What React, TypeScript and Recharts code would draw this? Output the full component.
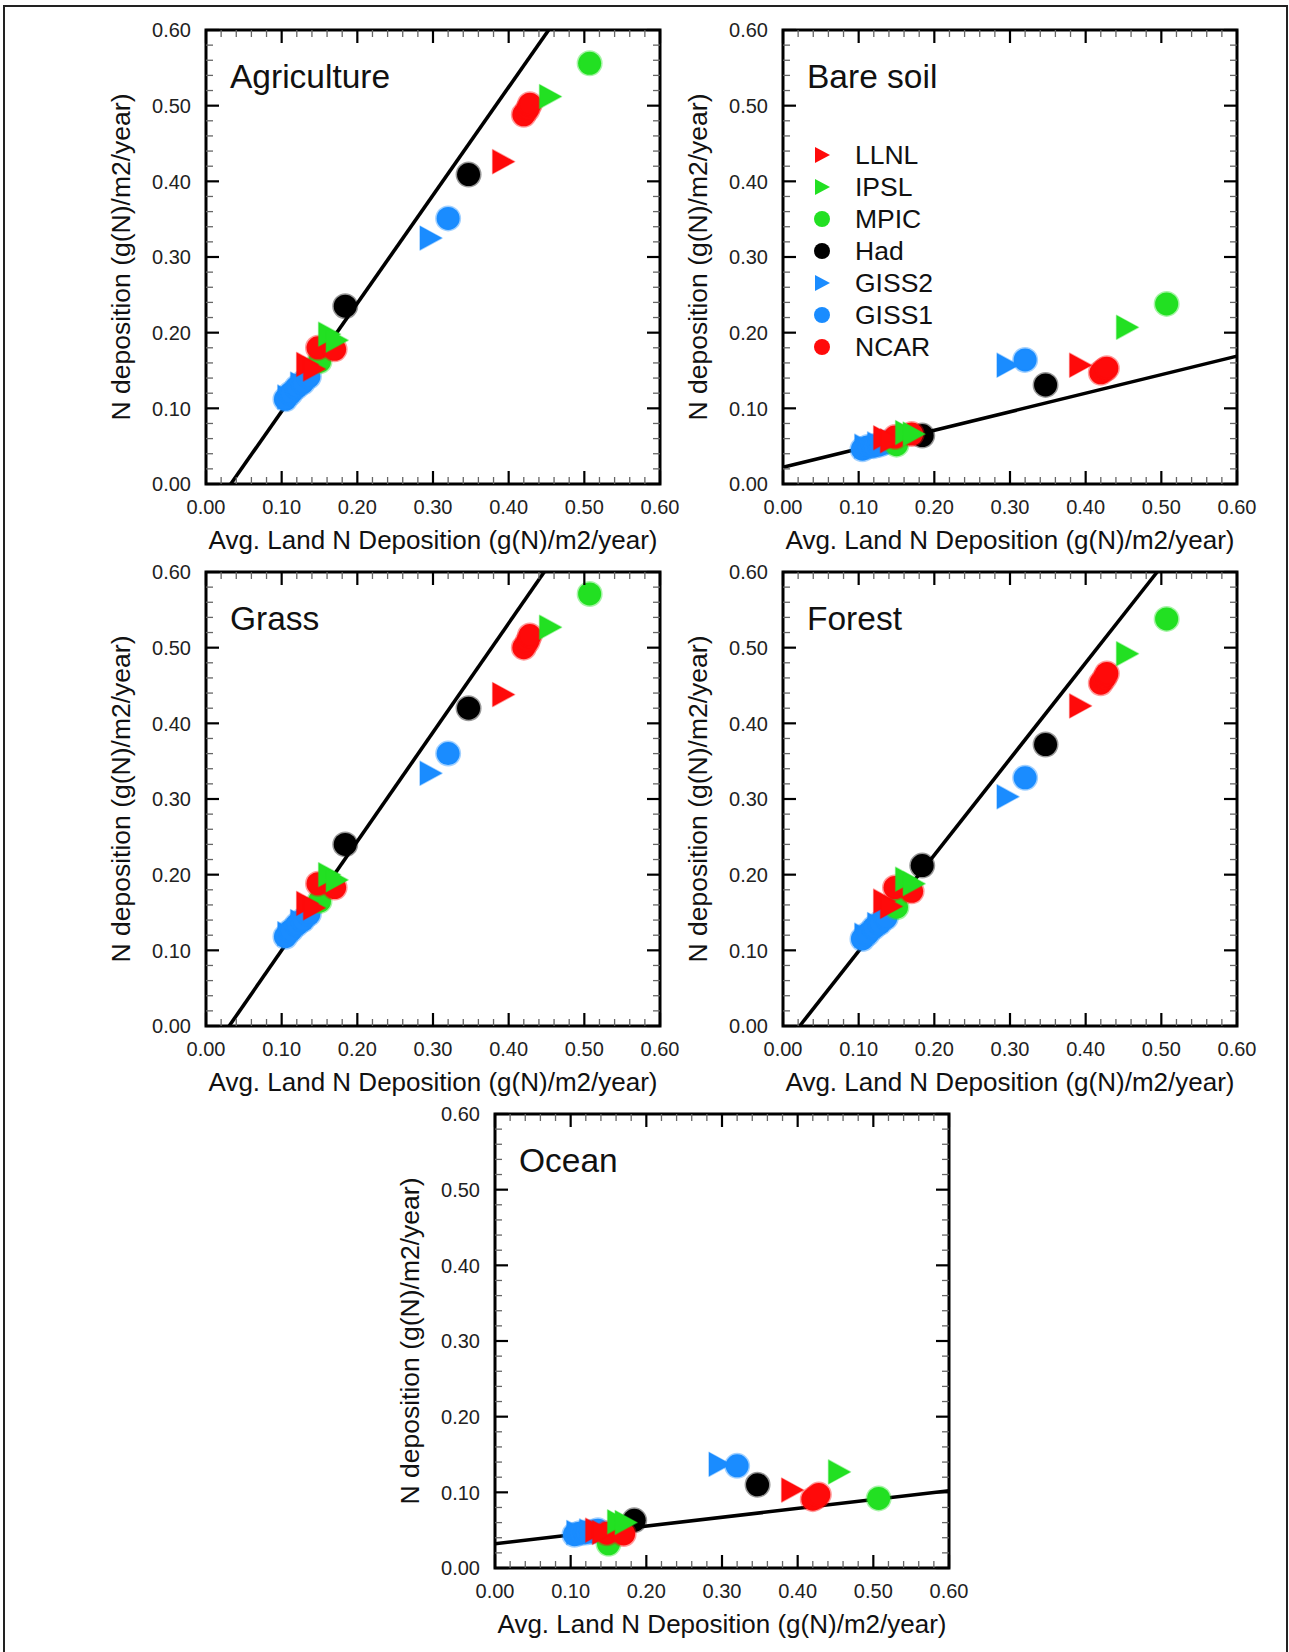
import React from "react";
import {
  ScatterChart,
  Scatter,
  XAxis,
  YAxis,
  ReferenceLine,
  ReferenceArea,
  Legend,
  Customized,
} from "recharts";

// ---------------- data ----------------
const MODELS = ["LLNL", "IPSL", "MPIC", "Had", "GISS2", "GISS1", "NCAR"];
const DRAW_ORDER = ["GISS2", "GISS1", "MPIC", "Had", "NCAR", "LLNL", "IPSL"];

// Avg. land N deposition (x) for each model's points, shared by every panel
const xLLNL = [0.133, 0.142, 0.392];
const xIPSL = [0.162, 0.172, 0.454];
const xMPIC = [0.15, 0.507];
const xHad = [0.184, 0.347];
const xGISS2 = [0.108, 0.125, 0.296];
const xGISS1 = [0.105, 0.112, 0.12, 0.128, 0.136, 0.32];
const xNCAR = [0.148, 0.17, 0.42, 0.425, 0.428];

// N deposition (y) per panel
const agricultureY = {
  LLNL: [0.158, 0.152, 0.426],
  IPSL: [0.198, 0.19, 0.512],
  MPIC: [0.162, 0.556],
  Had: [0.235, 0.409],
  GISS2: [0.115, 0.132, 0.325],
  GISS1: [0.112, 0.12, 0.128, 0.134, 0.142, 0.351],
  NCAR: [0.18, 0.178, 0.488, 0.495, 0.502],
};
const bareSoilY = {
  LLNL: [0.061, 0.057, 0.157],
  IPSL: [0.068, 0.066, 0.207],
  MPIC: [0.052, 0.238],
  Had: [0.064, 0.131],
  GISS2: [0.05, 0.053, 0.157],
  GISS1: [0.046, 0.049, 0.05, 0.052, 0.055, 0.164],
  NCAR: [0.062, 0.066, 0.147, 0.151, 0.153],
};
const grassY = {
  LLNL: [0.162, 0.156, 0.438],
  IPSL: [0.2, 0.193, 0.527],
  MPIC: [0.165, 0.571],
  Had: [0.24, 0.42],
  GISS2: [0.122, 0.138, 0.334],
  GISS1: [0.118, 0.126, 0.134, 0.14, 0.148, 0.36],
  NCAR: [0.188, 0.183, 0.5, 0.508, 0.516],
};
const forestY = {
  LLNL: [0.165, 0.158, 0.423],
  IPSL: [0.194, 0.188, 0.492],
  MPIC: [0.157, 0.538],
  Had: [0.212, 0.372],
  GISS2: [0.12, 0.134, 0.303],
  GISS1: [0.115, 0.122, 0.13, 0.136, 0.143, 0.328],
  NCAR: [0.183, 0.178, 0.453, 0.46, 0.466],
};
const oceanY = {
  LLNL: [0.05, 0.047, 0.103],
  IPSL: [0.061, 0.06, 0.127],
  MPIC: [0.032, 0.092],
  Had: [0.063, 0.11],
  GISS2: [0.047, 0.049, 0.137],
  GISS1: [0.044, 0.046, 0.047, 0.048, 0.05, 0.135],
  NCAR: [0.046, 0.045, 0.091, 0.094, 0.097],
};

const PANEL_TITLES = ["Agriculture", "Bare soil", "Grass", "Forest", "Ocean"];
const PANEL_Y = [agricultureY, bareSoilY, grassY, forestY, oceanY];
// linear fit: y = intercept + slope * x
const FIT_INTERCEPT = [-0.0467, 0.022, -0.0441, -0.028, 0.032];
const FIT_SLOPE = [1.428, 0.245, 1.441, 1.27, 0.117];

const AXIS_TICKS = [
  0, 0.02, 0.04, 0.06, 0.08, 0.1, 0.12, 0.14, 0.16, 0.18, 0.2, 0.22, 0.24,
  0.26, 0.28, 0.3, 0.32, 0.34, 0.36, 0.38, 0.4, 0.42, 0.44, 0.46, 0.48, 0.5,
  0.52, 0.54, 0.56, 0.58, 0.6,
];
const X_TITLE = "Avg. Land N Deposition (g(N)/m2/year)";
const Y_TITLE = "N deposition (g(N)/m2/year)";

const X_BY_MODEL: Record<string, number[]> = {
  LLNL: xLLNL,
  IPSL: xIPSL,
  MPIC: xMPIC,
  Had: xHad,
  GISS2: xGISS2,
  GISS1: xGISS1,
  NCAR: xNCAR,
};

// ---------------- styling ----------------
const COLOR: Record<string, string> = {
  LLNL: "#ff0a0a",
  IPSL: "#22e022",
  MPIC: "#22e022",
  Had: "#000000",
  GISS2: "#1a8cff",
  GISS1: "#1a8cff",
  NCAR: "#ff0a0a",
};
const SHAPE: Record<string, string> = {
  LLNL: "triangle",
  IPSL: "triangle",
  MPIC: "circle",
  Had: "circle",
  GISS2: "triangle",
  GISS1: "circle",
  NCAR: "circle",
};

const FONT = "'Liberation Sans', Arial, Helvetica, sans-serif";
const PL = 120; // plot left inside chart
const PT = 10; // plot top inside chart
const PW = 454;
const PH = 454;
const XH = 80;
const CW = PL + PW + 20;
const CH = PT + PH + XH;
const PB = PT + PH;
const PR = PL + PW;

const CHART_POS = [
  { left: 86, top: 20 },
  { left: 663, top: 20 },
  { left: 86, top: 562 },
  { left: 663, top: 562 },
  { left: 375, top: 1104 },
];

const isMajor = (v: number) => Math.abs(v * 10 - Math.round(v * 10)) < 1e-6;

const XTick = (props: any) => {
  const { x, payload } = props;
  const v = payload.value as number;
  const major = isMajor(v);
  const len = major ? 13 : 7;
  const sw = major ? 2.2 : 1.3;
  const col = major ? "#000" : "#666";
  return (
    <g>
      <line x1={x} x2={x} y1={PB} y2={PB - len} stroke={col} strokeWidth={sw} />
      <line x1={x} x2={x} y1={PT} y2={PT + len} stroke={col} strokeWidth={sw} />
      {major && (
        <text
          x={x}
          y={PB + 30}
          textAnchor="middle"
          fontSize={20}
          fontFamily={FONT}
          fill="#222"
        >
          {v.toFixed(2)}
        </text>
      )}
    </g>
  );
};

const YTick = (props: any) => {
  const { y, payload } = props;
  const v = payload.value as number;
  const major = isMajor(v);
  const len = major ? 13 : 7;
  const sw = major ? 2.2 : 1.3;
  const col = major ? "#000" : "#666";
  return (
    <g>
      <line x1={PL} x2={PL + len} y1={y} y2={y} stroke={col} strokeWidth={sw} />
      <line x1={PR} x2={PR - len} y1={y} y2={y} stroke={col} strokeWidth={sw} />
      {major && (
        <text
          x={PL - 15}
          y={y}
          dy="0.36em"
          textAnchor="end"
          fontSize={20}
          fontFamily={FONT}
          fill="#222"
        >
          {v.toFixed(2)}
        </text>
      )}
    </g>
  );
};

const makeShape = (model: string) => (props: any) => {
  const { cx, cy } = props;
  if (cx == null || cy == null) return <g />;
  const c = COLOR[model];
  if (SHAPE[model] === "circle") {
    return (
      <circle
        cx={cx}
        cy={cy}
        r={11.5}
        fill={c}
        stroke={c}
        strokeOpacity={0.4}
        strokeWidth={3}
      />
    );
  }
  return (
    <polygon
      points={`${cx - 10},${cy - 12} ${cx - 10},${cy + 12} ${cx + 12},${cy}`}
      fill={c}
      stroke={c}
      strokeOpacity={0.4}
      strokeWidth={1.5}
      strokeLinejoin="round"
    />
  );
};

const LegendMarker = ({ model }: { model: string }) => (
  <svg width={18} height={18} style={{ display: "block" }}>
    {SHAPE[model] === "circle" ? (
      <circle cx={9} cy={9} r={8} fill={COLOR[model]} />
    ) : (
      <polygon points="2,1 2,17 17,9" fill={COLOR[model]} />
    )}
  </svg>
);

const LegendContent = () => (
  <div style={{ fontFamily: FONT, fontSize: 26.5, color: "#111" }}>
    {MODELS.map((m) => (
      <div
        key={m}
        style={{ display: "flex", alignItems: "center", height: 32 }}
      >
        <LegendMarker model={m} />
        <span style={{ marginLeft: 24, lineHeight: "32px" }}>{m}</span>
      </div>
    ))}
  </div>
);

const PanelTexts = ({ title }: { title: string }) => (
  <g>
    <text
      x={PL + 24}
      y={PT + 58}
      fontSize={33.5}
      fontFamily={FONT}
      fill="#111"
    >
      {title}
    </text>
    <text
      x={PL + PW / 2}
      y={PB + 65}
      textAnchor="middle"
      fontSize={26}
      fontFamily={FONT}
      fill="#111"
    >
      {X_TITLE}
    </text>
    <text
      x={PL - 76}
      y={PT + PH / 2}
      transform={`rotate(-90 ${PL - 76} ${PT + PH / 2})`}
      textAnchor="middle"
      fontSize={26.5}
      fontFamily={FONT}
      fill="#111"
    >
      {Y_TITLE}
    </text>
  </g>
);

const fitSegment = (a: number, b: number) => {
  const x0 = Math.max(0, (0 - a) / b);
  const x1 = Math.min(0.6, (0.6 - a) / b);
  return [
    { x: x0, y: a + b * x0 },
    { x: x1, y: a + b * x1 },
  ];
};

const Panel = ({ index }: { index: number }) => {
  const yData = PANEL_Y[index] as Record<string, number[]>;
  const pos = CHART_POS[index];
  return (
    <div style={{ position: "absolute", left: pos.left, top: pos.top }}>
      <ScatterChart
        width={CW}
        height={CH}
        margin={{ top: PT, right: CW - PL - PW, bottom: 0, left: 0 }}
      >
        <XAxis
          type="number"
          dataKey="x"
          domain={[0, 0.6]}
          ticks={AXIS_TICKS}
          interval={0}
          height={XH}
          axisLine={false}
          tickLine={false}
          tick={<XTick />}
          allowDataOverflow
        />
        <YAxis
          type="number"
          dataKey="y"
          domain={[0, 0.6]}
          ticks={AXIS_TICKS}
          interval={0}
          width={PL}
          axisLine={false}
          tickLine={false}
          tick={<YTick />}
          allowDataOverflow
        />
        <ReferenceLine
          segment={fitSegment(FIT_INTERCEPT[index], FIT_SLOPE[index])}
          stroke="#000"
          strokeWidth={3.6}
          ifOverflow="visible"
        />
        {DRAW_ORDER.map((m) => (
          <Scatter
            key={m}
            name={m}
            data={X_BY_MODEL[m].map((x, i) => ({ x, y: yData[m][i] }))}
            fill={COLOR[m]}
            shape={makeShape(m)}
            isAnimationActive={false}
          />
        ))}
        <ReferenceArea
          x1={0}
          x2={0.6}
          y1={0}
          y2={0.6}
          fill="none"
          fillOpacity={0}
          stroke="#000"
          strokeWidth={3}
          ifOverflow="visible"
        />
        <Customized component={<PanelTexts title={PANEL_TITLES[index]} />} />
        {index === 1 && (
          <Legend
            content={<LegendContent />}
            layout="vertical"
            align="center"
            verticalAlign="middle"
            wrapperStyle={{
              position: "absolute",
              left: PL + 30,
              top: PT + 109,
              width: 200,
              height: 230,
            }}
          />
        )}
      </ScatterChart>
    </div>
  );
};

export default function App() {
  return (
    <div
      style={{
        position: "absolute",
        left: 0,
        top: 0,
        width: 1289,
        height: 1652,
        overflow: "hidden",
        background: "#fff",
        fontFamily: FONT,
      }}
    >
      <div
        style={{
          position: "absolute",
          left: 3,
          top: 5,
          width: 1285,
          height: 1700,
          boxSizing: "border-box",
          border: "2px solid #222",
        }}
      />
      {PANEL_TITLES.map((t, i) => (
        <Panel key={t} index={i} />
      ))}
    </div>
  );
}
